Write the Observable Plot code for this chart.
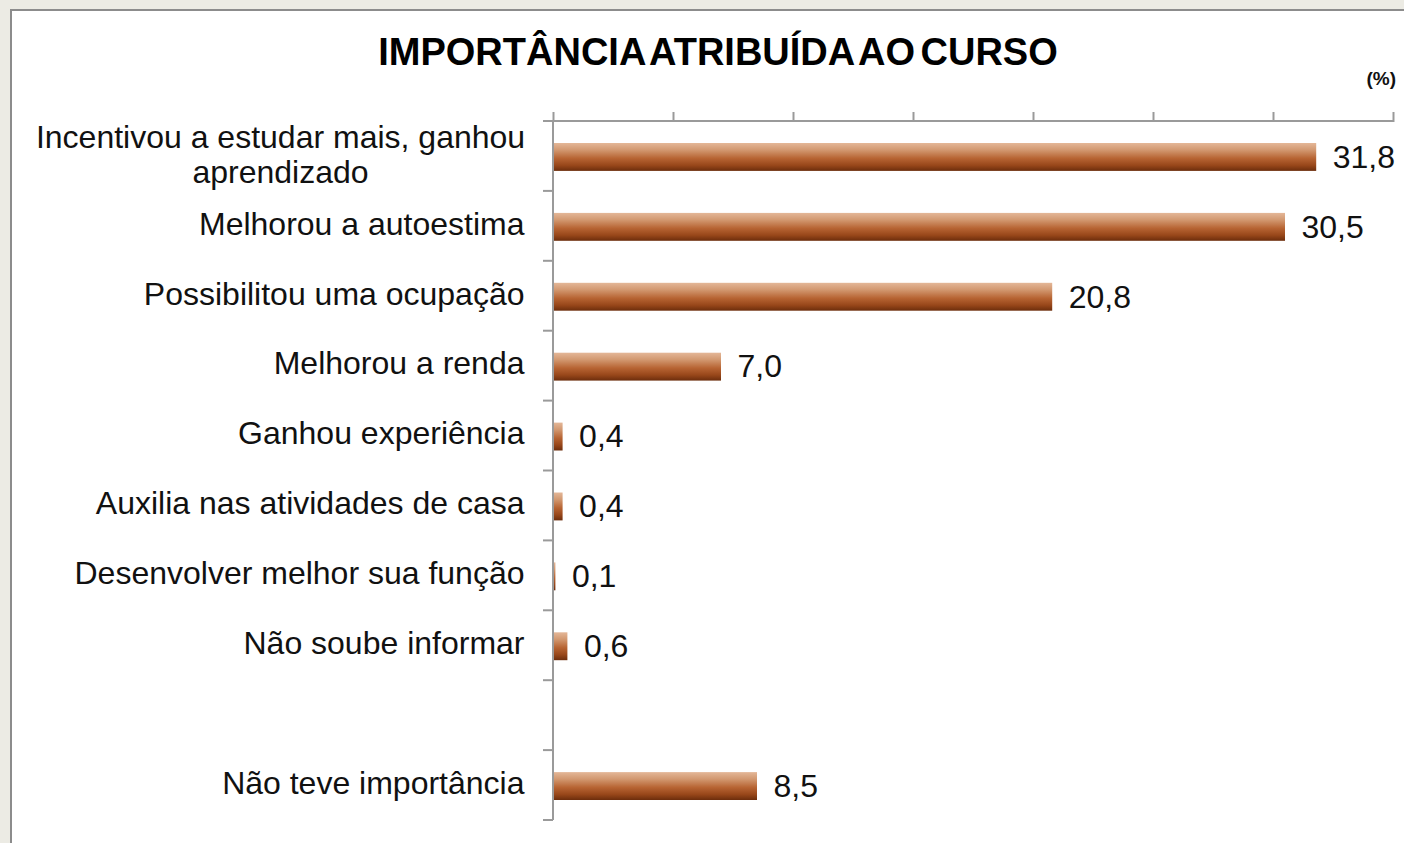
<!DOCTYPE html>
<html>
<head>
<meta charset="utf-8">
<script src="https://cdn.jsdelivr.net/npm/d3@7"></script>
<script src="https://cdn.jsdelivr.net/npm/@observablehq/plot@0.6"></script>
<style>
  html, body { margin: 0; padding: 0; width: 1404px; height: 843px; overflow: hidden; background: #ecebe4; }
  #panel { position: absolute; left: 10px; top: 9px; width: 1410px; height: 850px; background: #fff;
           border-left: 2px solid #8c8c8c; border-top: 2px solid #8c8c8c; }
  #title { position: absolute; left: 0; width: 1436px; top: 33px; text-align: center;
           font: bold 38px "Liberation Sans", Arial, sans-serif; line-height: 38px; color: #000; word-spacing: -5px; }
  #unit { position: absolute; right: 8px; top: 69px; font: bold 19px "Liberation Sans", Arial, sans-serif; line-height: 19px; color: #111; }
  #chart { position: absolute; left: 0; top: 0; }
</style>
</head>
<body>
<div id="panel"></div>
<div id="title">IMPORTÂNCIA ATRIBUÍDA AO CURSO</div>
<div id="unit">(%)</div>
<div id="chart"></div>
<script>
const categories = [
  "Incentivou a estudar mais, ganhou\naprendizado",
  "Melhorou a autoestima",
  "Possibilitou uma ocupação",
  "Melhorou a renda",
  "Ganhou experiência",
  "Auxilia nas atividades de casa",
  "Desenvolver melhor sua função",
  "Não soube informar",
  "",
  "Não teve importância"
];
const values = [31.8, 30.5, 20.8, 7.0, 0.4, 0.4, 0.1, 0.6, null, 8.5];
const xDomain = [0, 35];
const xTicks = [0, 5, 10, 15, 20, 25, 30, 35];

const rows = categories.map((category, i) => ({category, value: values[i]}));
const barRows = rows.filter(d => d.value != null);
const singleLabels = rows.filter(d => d.category !== "" && !d.category.includes("\n"));
const wrappedLabels = rows.filter(d => d.category.includes("\n"));
const fmt = v => d3.format(".1f")(v).replace(".", ",");

function gradientDefs() {
  const defs = d3.create("svg:defs");
  const g = defs.append("linearGradient").attr("id", "barGrad").attr("x1", 0).attr("y1", 0).attr("x2", 0).attr("y2", 1);
  [["0%", "#e4b798"], ["25%", "#d29870"], ["55%", "#b76433"], ["80%", "#98471a"], ["100%", "#6c2d0c"]]
    .forEach(([o, c]) => g.append("stop").attr("offset", o).attr("stop-color", c));
  return defs.node();
}

function axisLines(index, scales, values, dimensions) {
  const {x, y} = scales;
  const g = d3.create("svg:g").attr("stroke", "#9a9a9a").attr("stroke-width", 2).attr("fill", "none");
  const x0 = x(xDomain[0]), x1 = x(xDomain[1]);
  const top = dimensions.marginTop, bottom = dimensions.height - dimensions.marginBottom;
  g.append("line").attr("x1", x0).attr("x2", x1).attr("y1", top).attr("y2", top);
  g.append("line").attr("x1", x0).attr("x2", x0).attr("y1", top).attr("y2", bottom);
  categories.map(c => y(c)).concat([bottom]).forEach(yy =>
    g.append("line").attr("x1", x0 - 10).attr("x2", x0).attr("y1", yy).attr("y2", yy));
  return g.node();
}

const chart = Plot.plot({
  width: 1404,
  height: 843,
  marginLeft: 553,
  marginRight: 11,
  marginTop: 121,
  marginBottom: 23,
  style: {background: "transparent", fontFamily: "'Liberation Sans', Arial, sans-serif", color: "#111"},
  x: {domain: xDomain, axis: null},
  y: {domain: categories, padding: 0, round: false, axis: null},
  marks: [
    gradientDefs,
    Plot.barX(barRows, {x: "value", y: "category", fill: "url(#barGrad)", insetTop: 22, insetBottom: 20}),
    Plot.axisX({anchor: "top", ticks: xTicks, tickSize: 10, tickFormat: () => "", label: null, stroke: "#9a9a9a", strokeWidth: 2}),
    axisLines,
    Plot.text(barRows, {x: "value", y: "category", text: d => fmt(d.value), textAnchor: "start", dx: 16, dy: 1, fontSize: 32, fill: "#111"}),
    Plot.text(singleLabels, {y: "category", text: "category", frameAnchor: "left", textAnchor: "end", dx: -29, dy: -2, fontSize: 32, fill: "#111"}),
    Plot.text(wrappedLabels, {y: "category", text: "category", frameAnchor: "left", textAnchor: "middle", dx: -273, dy: -2, lineHeight: 1.1, fontSize: 32, fill: "#111"})
  ]
});
document.getElementById("chart").appendChild(chart);
</script>
</body>
</html>
